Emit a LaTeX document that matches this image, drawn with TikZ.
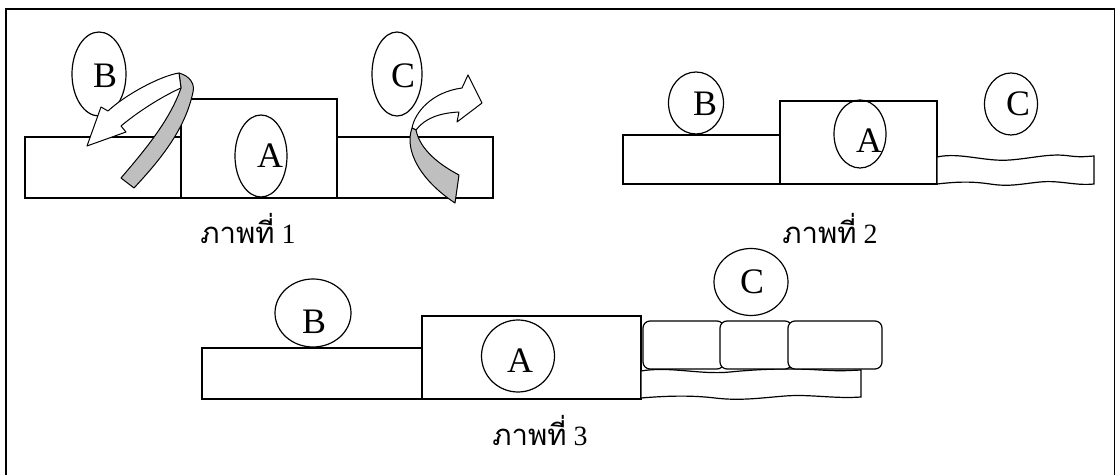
\documentclass[tikz,border=0pt]{standalone}
\usepackage{fontspec}
\setmainfont{Liberation Serif}
\newfontfamily\thaifont[Script=Thai,Scale=1.05]{Loma}
\usetikzlibrary{shapes.geometric}
\tikzset{
  blob/.style={draw, ellipse, line width=1.2bp, inner sep=0pt},
  letter/.style={font=\fontsize{36}{36}\selectfont, inner sep=0pt},
  caption/.style={font=\fontsize{28}{28}\selectfont, inner sep=0pt},
  block/.style={draw, line width=1.2bp, fill=white},
  ribbon/.style={draw, line width=1bp, fill=black!25, line join=round},
  face/.style={draw, line width=1bp, fill=white, line join=round},
}
\begin{document}
\begin{tikzpicture}[x=1bp, y=-1bp]
\useasboundingbox (0,0) rectangle (1115,475);
\draw[line width=1.5bp] (6,475) -- (6,9) -- (1114.5,9) -- (1114.5,475);

% picture 1
\draw[block] (25,137) rectangle (181,198);
\draw[block] (181,99) rectangle (337,198);
\draw[block] (337,137) rectangle (493,198);
\node[blob, minimum width=54bp, minimum height=84bp] (b1) at (99,74) {};
\node[letter] (tb1) at (105,76) {B};
\node[blob, minimum width=50bp, minimum height=84bp] (c1) at (397,74) {};
\node[letter] (tc1) at (403,76) {C};
\node[blob, minimum width=52bp, minimum height=82bp] (a1) at (261,156) {};
\node[letter] (ta1) at (270,156) {A};
% twisted arrow from B
\draw[ribbon] (179,73) .. controls (190,76) and (195,84) .. (193,92)
  .. controls (185,130) and (160,160) .. (134,188) -- (121,178)
  .. controls (145,150) and (170,120) .. (181,88) -- cycle;
\draw[face] (179,73) .. controls (160,76) and (125,95) .. (108,111)
  -- (101,107) -- (87,146) -- (126,132) -- (121,126)
  .. controls (140,110) and (165,95) .. (181,88) -- cycle;
% twisted arrow from C
\draw[face] (412,128) .. controls (415,112) and (432,92) .. (462,88)
  -- (468,75) -- (482,103) -- (457,122) -- (459,112)
  .. controls (440,113) and (425,118) .. (416,130) -- cycle;
\draw[ribbon] (412,128) .. controls (404,150) and (420,180) .. (455,203)
  -- (459,175) .. controls (440,165) and (420,150) .. (416,130) -- cycle;
\node[caption] (cap1) at (248,229) {{\thaifont ภาพที่} 1};

% picture 2
\draw[block] (623,135) rectangle (780,184);
\draw[block] (780,101) rectangle (937,184);
\draw[block] (937,157) .. controls (960,152) and (985,162) .. (1010,160)
  .. controls (1035,158) and (1050,153) .. (1070,156) .. controls (1080,157) .. (1094,156)
  -- (1094,184) .. controls (1075,186) and (1060,180) .. (1040,182)
  .. controls (1020,184) and (1010,187) .. (990,184)
  .. controls (970,181) and (955,182) .. (937,184) -- cycle;
\node[blob, minimum width=55bp, minimum height=62bp] (b2) at (696,103) {};
\node[letter] (tb2) at (705,104) {B};
\node[blob, minimum width=52bp, minimum height=68bp] (a2) at (860,134) {};
\node[letter] (ta2) at (869,141) {A};
\node[blob, minimum width=53bp, minimum height=62bp] (c2) at (1011,104) {};
\node[letter] (tc2) at (1018,104) {C};
\node[caption] (cap2) at (830,229) {{\thaifont ภาพที่} 2};

% picture 3
\draw[block] (202,348) rectangle (422,399);
\draw[block] (422,316) rectangle (641,399);
\draw[block] (641,371) .. controls (670,366) and (700,375) .. (730,372)
  .. controls (760,369) and (790,368) .. (820,370) .. controls (840,371) .. (861,370)
  -- (861,397) .. controls (835,399) and (810,394) .. (785,396)
  .. controls (760,398) and (740,401) .. (715,398)
  .. controls (690,395) and (665,396) .. (641,398) -- cycle;
\draw[block, rounded corners=7bp] (643,321) rectangle (724,369);
\draw[block, rounded corners=7bp] (720,321) rectangle (792,369);
\draw[block, rounded corners=7bp] (788,321) rectangle (882,369);
\node[blob, minimum width=76bp, minimum height=68bp] (b3) at (313,313) {};
\node[letter] (tb3) at (314,322) {B};
\node[blob, minimum width=73bp, minimum height=72bp] (a3) at (518,356) {};
\node[letter] (ta3) at (520,361) {A};
\node[blob, minimum width=74bp, minimum height=67bp] (c3) at (751,282) {};
\node[letter] (tc3) at (752,282) {C};
\node[caption] (cap3) at (540,431) {{\thaifont ภาพที่} 3};
\end{tikzpicture}
\end{document}
